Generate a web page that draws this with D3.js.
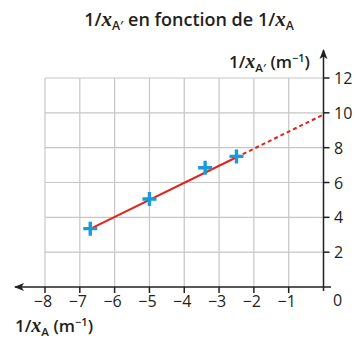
<!DOCTYPE html>
<html><head><meta charset="utf-8">
<script src="https://cdn.jsdelivr.net/npm/d3@7"></script>
<style>
body{margin:0;background:#fff;}
text{font-family:"Open Sans","Noto Sans",sans-serif;fill:#231f20;}
</style></head>
<body>
<svg id="c" width="359" height="339"></svg>
<script>
// Measured points (1/xA, 1/xA')
const invXA = [-6.7, -5.0, -3.4, -2.5];
const invXAprime = [3.35, 5.05, 6.85, 7.5];
// Fitted line
const fitSlope = 0.98;
const fitIntercept = 9.9;
const xTicks = [-8, -7, -6, -5, -4, -3, -2, -1];
const yTicks = [2, 4, 6, 8, 10, 12];

const svg = d3.select("#c");
const x = d3.scaleLinear().domain([-8, 0]).range([45, 323.5]);
const y = d3.scaleLinear().domain([0, 12]).range([287, 78]);
const ink = "#231f20";

// grid
const g = svg.append("g");
g.selectAll("line.v").data(xTicks).join("line")
  .attr("x1", d => x(d)).attr("x2", d => x(d)).attr("y1", y(12)).attr("y2", y(0))
  .attr("stroke", "#c6c6c6").attr("stroke-width", 1.2);
g.selectAll("line.h").data(yTicks).join("line")
  .attr("x1", x(-8)).attr("x2", x(0)).attr("y1", d => y(d)).attr("y2", d => y(d))
  .attr("stroke", "#c6c6c6").attr("stroke-width", 1.2);

// axes lines with arrows
svg.append("defs").append("marker").attr("id", "ar").attr("viewBox", "0 0 10 10")
  .attr("refX", 9).attr("refY", 5).attr("markerWidth", 10).attr("markerHeight", 10)
  .attr("markerUnits", "userSpaceOnUse").attr("orient", "auto")
  .append("path").attr("d", "M0,1 L10,5 L0,9 L2.5,5 Z").attr("fill", ink);
svg.append("line").attr("x1", 331).attr("x2", 15).attr("y1", y(0)).attr("y2", y(0))
  .attr("stroke", ink).attr("stroke-width", 1.5).attr("marker-end", "url(#ar)");
svg.append("line").attr("x1", x(0)).attr("x2", x(0)).attr("y1", 291).attr("y2", 50)
  .attr("stroke", ink).attr("stroke-width", 1.5).attr("marker-end", "url(#ar)");

// x ticks
const xt = svg.append("g");
xt.selectAll("line").data(xTicks).join("line")
  .attr("x1", d => x(d)).attr("x2", d => x(d)).attr("y1", y(0)).attr("y2", y(0) + 6)
  .attr("stroke", ink).attr("stroke-width", 1.5);
xt.selectAll("text").data(xTicks).join("text")
  .attr("x", d => x(d) - 2).attr("y", 307).attr("text-anchor", "middle")
  .attr("font-size", 16).text(d => "\u2212" + Math.abs(d));
svg.append("text").attr("x", 333).attr("y", 306).attr("font-size", 16).text("0");

// y ticks
const yt = svg.append("g");
yt.selectAll("line").data(yTicks).join("line")
  .attr("x1", x(0)).attr("x2", x(0) + 6).attr("y1", d => y(d)).attr("y2", d => y(d))
  .attr("stroke", ink).attr("stroke-width", 1.5);
yt.selectAll("text").data(yTicks).join("text")
  .attr("x", 334).attr("y", d => y(d) + 6).attr("font-size", 16).text(d => d);

// fitted line: solid over the data range, dashed extrapolation to 0
const lx0 = d3.min(invXA), lx1 = d3.max(invXA);
const f = v => fitSlope * v + fitIntercept;
svg.append("line").attr("x1", x(lx0)).attr("y1", y(f(lx0))).attr("x2", x(lx1)).attr("y2", y(f(lx1)))
  .attr("stroke", "#e2231a").attr("stroke-width", 2);
svg.append("line").attr("x1", x(lx1)).attr("y1", y(f(lx1))).attr("x2", x(0)).attr("y2", y(f(0)))
  .attr("stroke", "#e2231a").attr("stroke-width", 2).attr("stroke-dasharray", "4,3");

// data crosses
const pts = invXA.map((v, i) => [v, invXAprime[i]]);
svg.append("g").selectAll("path").data(pts).join("path")
  .attr("d", d => { const cx = x(d[0]), cy = y(d[1]);
    return `M${cx-7},${cy}H${cx+7}M${cx},${cy-7}V${cy+7}`; })
  .attr("stroke", "#1a9ad7").attr("stroke-width", 3.4).attr("fill", "none");

// title and axis labels
function label(sel, size, sub, prime) {
  sel.append("tspan").text("1/");
  sel.append("tspan").attr("font-family", "Liberation Serif, serif").attr("font-style", "italic")
    .attr("font-size", size + 3).text("x");
  sel.append("tspan").attr("font-size", size * 0.68).attr("dy", 4).text(prime ? "A\u2032" : "A");
}
const title = svg.append("text").attr("x", 189).attr("y", 26).attr("text-anchor", "middle")
  .attr("font-size", 18).attr("font-weight", 600);
label(title, 18, true, true);
title.append("tspan").attr("dy", -4).text(" en fonction de ");
label(title, 18, true, false);

const yl = svg.append("text").attr("x", 310).attr("y", 68).attr("text-anchor", "end")
  .attr("font-size", 17).attr("font-weight", 600);
label(yl, 17, true, true);
yl.append("tspan").attr("dy", -4).text(" (m");
yl.append("tspan").attr("font-size", 11).attr("dy", -6).text("\u22121");
yl.append("tspan").attr("dy", 6).text(")");

const xl = svg.append("text").attr("x", 15).attr("y", 332)
  .attr("font-size", 17).attr("font-weight", 600);
label(xl, 17, true, false);
xl.append("tspan").attr("dy", -4).text(" (m");
xl.append("tspan").attr("font-size", 11).attr("dy", -6).text("\u22121");
xl.append("tspan").attr("dy", 6).text(")");
</script>
</body></html>
